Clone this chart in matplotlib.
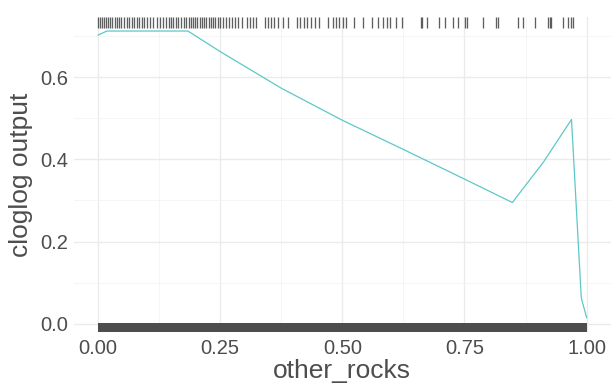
import numpy as np
import matplotlib.pyplot as plt
from matplotlib.ticker import MultipleLocator, FormatStrFormatter

# response curve (cloglog output) along other_rocks
curve_x = [0.000, 0.018, 0.184, 0.250, 0.375, 0.500, 0.625, 0.750, 0.848, 0.912, 0.969, 0.989, 1.000]
curve_y = [0.702, 0.712, 0.712, 0.662, 0.573, 0.495, 0.424, 0.352, 0.295, 0.394, 0.497, 0.063, 0.015]

# presence locations (top rug)
presence_x = [
    0.000, 0.004, 0.008, 0.012, 0.016, 0.020, 0.025, 0.029,
    0.035, 0.039, 0.043, 0.047, 0.053, 0.059, 0.064,
    0.070, 0.074, 0.080, 0.084, 0.090, 0.094,
    0.100, 0.107, 0.113, 0.121, 0.127, 0.133, 0.139,
    0.145, 0.150, 0.154, 0.160, 0.164, 0.170, 0.176, 0.180,
    0.186, 0.191, 0.195, 0.199, 0.203, 0.209, 0.213, 0.217, 0.221, 0.227, 0.232,
    0.236, 0.240, 0.246, 0.250, 0.256, 0.262, 0.268, 0.275, 0.281, 0.287,
    0.295, 0.305, 0.311, 0.318, 0.324,
    0.342, 0.348, 0.355, 0.361, 0.369, 0.379, 0.389,
    0.408, 0.414, 0.422, 0.428, 0.436, 0.445, 0.453,
    0.471, 0.480, 0.486, 0.494, 0.502, 0.508,
    0.523, 0.543, 0.561, 0.572, 0.584, 0.592, 0.598, 0.609, 0.623,
    0.660, 0.664, 0.674, 0.697, 0.711, 0.727, 0.736, 0.752, 0.756,
    0.787, 0.814, 0.818, 0.859, 0.869, 0.895, 0.920, 0.924, 0.928,
    0.951, 0.961, 0.967, 0.973,
]

# background points cover the whole range (bottom rug)
background_range = [0.0, 1.0]

x_ticks = [0.00, 0.25, 0.50, 0.75, 1.00]
y_ticks = [0.0, 0.2, 0.4, 0.6]

plt.rcParams['font.family'] = ['Liberation Sans', 'DejaVu Sans']

fig = plt.figure(figsize=(6.16, 3.87), dpi=100)
ax = fig.add_axes([0.1195, 0.142, 0.8725, 0.815])

rug_col = '#4d4d4d'
trans = ax.get_xaxis_transform()
ax.vlines(presence_x, 0.965, 1.0, transform=trans, color=rug_col, lw=0.95, alpha=0.9)
ax.fill_between(background_range, 0, 0.03, transform=trans, color=rug_col, lw=0)

ax.plot(curve_x, curve_y, color='#5cc8c8', lw=0.9)

ax.set_xlim(-0.05, 1.05)
ax.set_ylim(-0.02, 0.747)
ax.set_xticks(x_ticks)
ax.set_yticks(y_ticks)
ax.xaxis.set_major_formatter(FormatStrFormatter('%.2f'))
ax.yaxis.set_major_formatter(FormatStrFormatter('%.1f'))
ax.xaxis.set_minor_locator(MultipleLocator(0.125))
ax.yaxis.set_minor_locator(MultipleLocator(0.1))

ax.grid(which='major', color='#ebebeb', lw=1.0)
ax.grid(which='minor', color='#f4f4f4', lw=0.6)
ax.set_axisbelow(True)
for s in ax.spines.values():
    s.set_visible(False)
ax.tick_params(which='both', length=0, labelsize=14.5, labelcolor='#4d4d4d')
ax.tick_params(axis='x', pad=5)
ax.tick_params(axis='y', pad=4)

ax.set_xlabel('other_rocks', fontsize=19, color='#4d4d4d', labelpad=1)
ax.set_ylabel('cloglog output', fontsize=19, color='#4d4d4d', labelpad=5)

fig.savefig('out.png', dpi=100)
